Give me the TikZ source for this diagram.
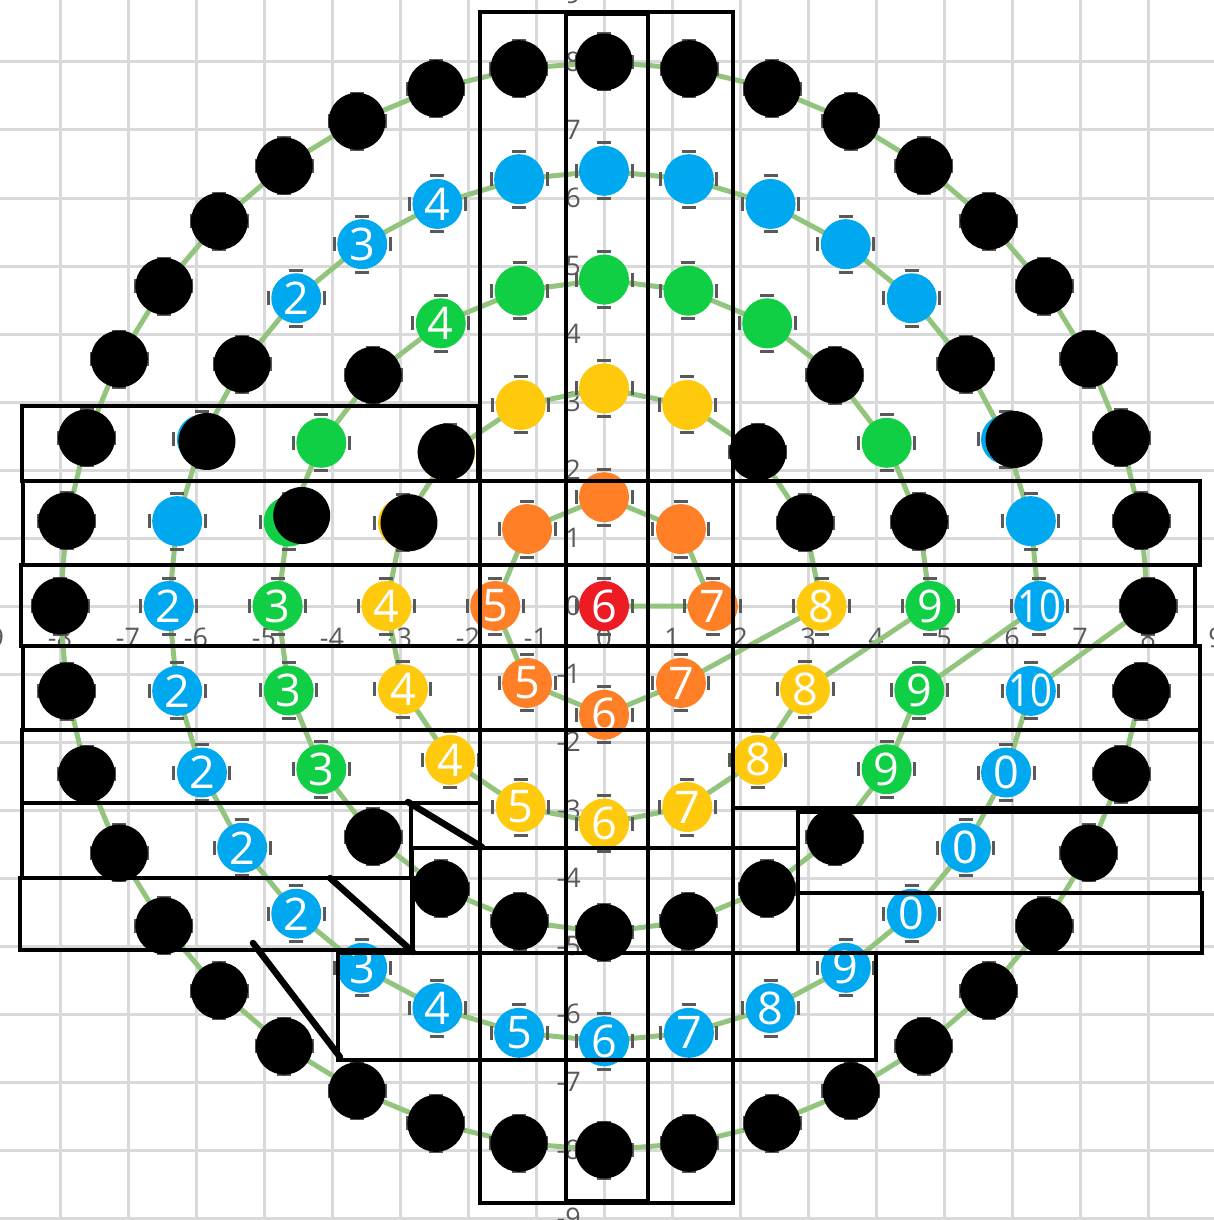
\documentclass[tikz,border=0pt]{standalone}
\usepackage{fontspec}
\newfontfamily\chartfont{Open Sans}
\definecolor{gridgray}{HTML}{D9D9D9}
\definecolor{axisgray}{HTML}{595959}
\definecolor{linkgreen}{HTML}{93C47D}
\definecolor{dotred}{HTML}{ED1C24}
\definecolor{dotorange}{HTML}{FF7F27}
\definecolor{dotyellow}{HTML}{FFC90E}
\definecolor{dotgreen}{HTML}{11CF45}
\definecolor{dotblue}{HTML}{00A8F0}
\newcommand\tenlab{\makebox[0pt]{\scalebox{0.85}[1]{10}}}
\tikzset{
  dot/.style={circle, minimum size=50pt, inner sep=0pt, text=white,
              font=\chartfont\fontsize{45}{45}\selectfont},
  redpt/.style={dot, fill=dotred},
  orgpt/.style={dot, fill=dotorange},
  yelpt/.style={dot, fill=dotyellow},
  grnpt/.style={dot, fill=dotgreen},
  blupt/.style={dot, fill=dotblue},
  blkpt/.style={dot, fill=black, minimum size=57pt},
  link/.style={linkgreen, line width=5pt, line join=round},
  errcap/.style={axisgray, line width=3pt},
  gridline/.style={gridgray, line width=3pt},
  ticklab/.style={axisgray, inner sep=0pt, font=\chartfont\fontsize{27}{27}\selectfont},
  frame/.style={black, line width=3.5pt},
  slash/.style={black, line width=6.5pt, line cap=round}
}
\begin{document}
\begin{tikzpicture}[x=1pt, y=-1pt]
    \useasboundingbox (0,0) rectangle (1214,1220);
    \clip (0,0) rectangle (1214,1220);
    \begin{scope}[shift={(604,606)}, x=68pt, y=68pt]
        \draw[gridline, step=1] (-9,-9) grid (9,9);
        \foreach \v in {-9,...,9} {
            \node[ticklab] (xl\v) at (\v,-0.47) {\v};
            \node[ticklab, anchor=east] (yl\v) at (-0.34,\v) {\v};
        }
        % one point per slot on each ring
        \coordinate (ctr) at (0,0);
        \foreach \i in {0,...,7} \coordinate (o\i) at ({\i*45}:1.6);
        \foreach \i in {0,...,15} \coordinate (y\i) at ({\i*22.5}:3.2);
        \foreach \i in {0,...,23} \coordinate (g\i) at ({\i*15}:4.8);
        \foreach \i in {0,...,31} \coordinate (b\i) at ({\i*11.25}:6.4);
        \foreach \i in {0,...,39} \coordinate (k\i) at ({\i*9}:8);
        \draw[link] (ctr) foreach \i in {0,...,7} {-- (o\i)}
                          foreach \i in {0,...,15} {-- (y\i)}
                          foreach \i in {0,...,23} {-- (g\i)}
                          foreach \i in {0,...,31} {-- (b\i)}
                          foreach \i in {0,...,39} {-- (k\i)};
        \foreach \r/\n in {o/7, y/15, g/23, b/31, k/39}
            \foreach \i in {0,...,\n}
                \draw[errcap] ([shift={(-28pt,-7pt)}]\r\i) -- ++(0pt,14pt)
                              ([shift={(28pt,-7pt)}]\r\i) -- ++(0pt,14pt)
                              ([shift={(-7pt,28pt)}]\r\i) -- ++(14pt,0pt)
                              ([shift={(-7pt,-28pt)}]\r\i) -- ++(14pt,0pt);
        \draw[errcap] ([shift={(-28pt,-7pt)}]ctr) -- ++(0pt,14pt)
                      ([shift={(28pt,-7pt)}]ctr) -- ++(0pt,14pt)
                      ([shift={(-7pt,28pt)}]ctr) -- ++(14pt,0pt)
                      ([shift={(-7pt,-28pt)}]ctr) -- ++(14pt,0pt);
        % dots
        \node[redpt] (C) at (ctr) {6};
        \foreach \lab/\sty [count=\i from 0] in {7/orgpt, /orgpt, /orgpt, /orgpt,
                5/orgpt, 5/orgpt, 6/orgpt, 7/orgpt}
            \node[\sty] (O\i) at (o\i) {\lab};
        \foreach \lab/\sty [count=\i from 0] in {8/yelpt, /blkpt, /blkpt, /yelpt,
                /yelpt, /yelpt, /yelpt, /yelpt, 4/yelpt, 4/yelpt, 4/yelpt, 5/yelpt,
                6/yelpt, 7/yelpt, 8/yelpt, 8/yelpt}
            \node[\sty] (Y\i) at (y\i) {\lab};
        \foreach \lab/\sty [count=\i from 0] in {9/grnpt, /blkpt, /grnpt, /blkpt,
                /grnpt, /grnpt, /grnpt, /grnpt, 4/grnpt, /blkpt, /grnpt, /grnpt,
                3/grnpt, 3/grnpt, 3/grnpt, /blkpt, /blkpt, /blkpt, /blkpt, /blkpt,
                /blkpt, /blkpt, 9/grnpt, 9/grnpt}
            \node[\sty] (G\i) at (g\i) {\lab};
        \foreach \lab/\sty [count=\i from 0] in {\tenlab/blupt, /blupt, /blupt, /blkpt,
                /blupt, /blupt, /blupt, /blupt, /blupt, /blupt, 4/blupt, 3/blupt,
                2/blupt, /blkpt, /blupt, /blupt, 2/blupt, 2/blupt, 2/blupt, 2/blupt,
                2/blupt, 3/blupt, 4/blupt, 5/blupt, 6/blupt, 7/blupt, 8/blupt,
                9/blupt, 0/blupt, 0/blupt, 0/blupt, \tenlab/blupt}
            \node[\sty] (B\i) at (b\i) {\lab};
        \foreach \i in {0,...,39}
            \node[blkpt] (K\i) at (k\i) {};
        % black covers laid a little off the points
        \node[blkpt] (Y6k) at ([xshift=-4pt]y6) {};
        \node[blkpt] (Y7k) at ([xshift=6pt]y7) {};
        \node[blkpt] (G11k) at ([shift={(13pt,6pt)}]g11) {};
        \node[blkpt] (B2k) at ([xshift=8pt]b2) {};
        \node[blkpt] (B14k) at ([shift={(5pt,-2pt)}]b14) {};
    \end{scope}
    % boxes
    \draw[frame] (480,12) rectangle (733,1203);
    \draw[frame] (566,14) rectangle (648,1201);
    \draw[frame] (22,406) rectangle (478,481);
    \draw[frame] (23,481) rectangle (1200,565);
    \draw[frame] (21,565) rectangle (1195,646);
    \draw[frame] (23,646) rectangle (1200,730);
    \draw[frame] (22,730) rectangle (480,803);
    \draw[frame] (733,730) rectangle (1200,808);
    \draw[frame] (22,803) rectangle (411,878);
    \draw[frame] (20,878) rectangle (413,950);
    \draw[frame] (412,848) rectangle (798,953);
    \draw[frame] (798,812) rectangle (1200,893);
    \draw[frame] (798,893) rectangle (1202,953);
    \draw[frame] (338,953) rectangle (876,1060);
    \draw[slash] (408,802) -- (482,847);
    \draw[slash] (330,878) -- (413,952);
    \draw[slash] (253,943) -- (340,1057);
\end{tikzpicture}
\end{document}
